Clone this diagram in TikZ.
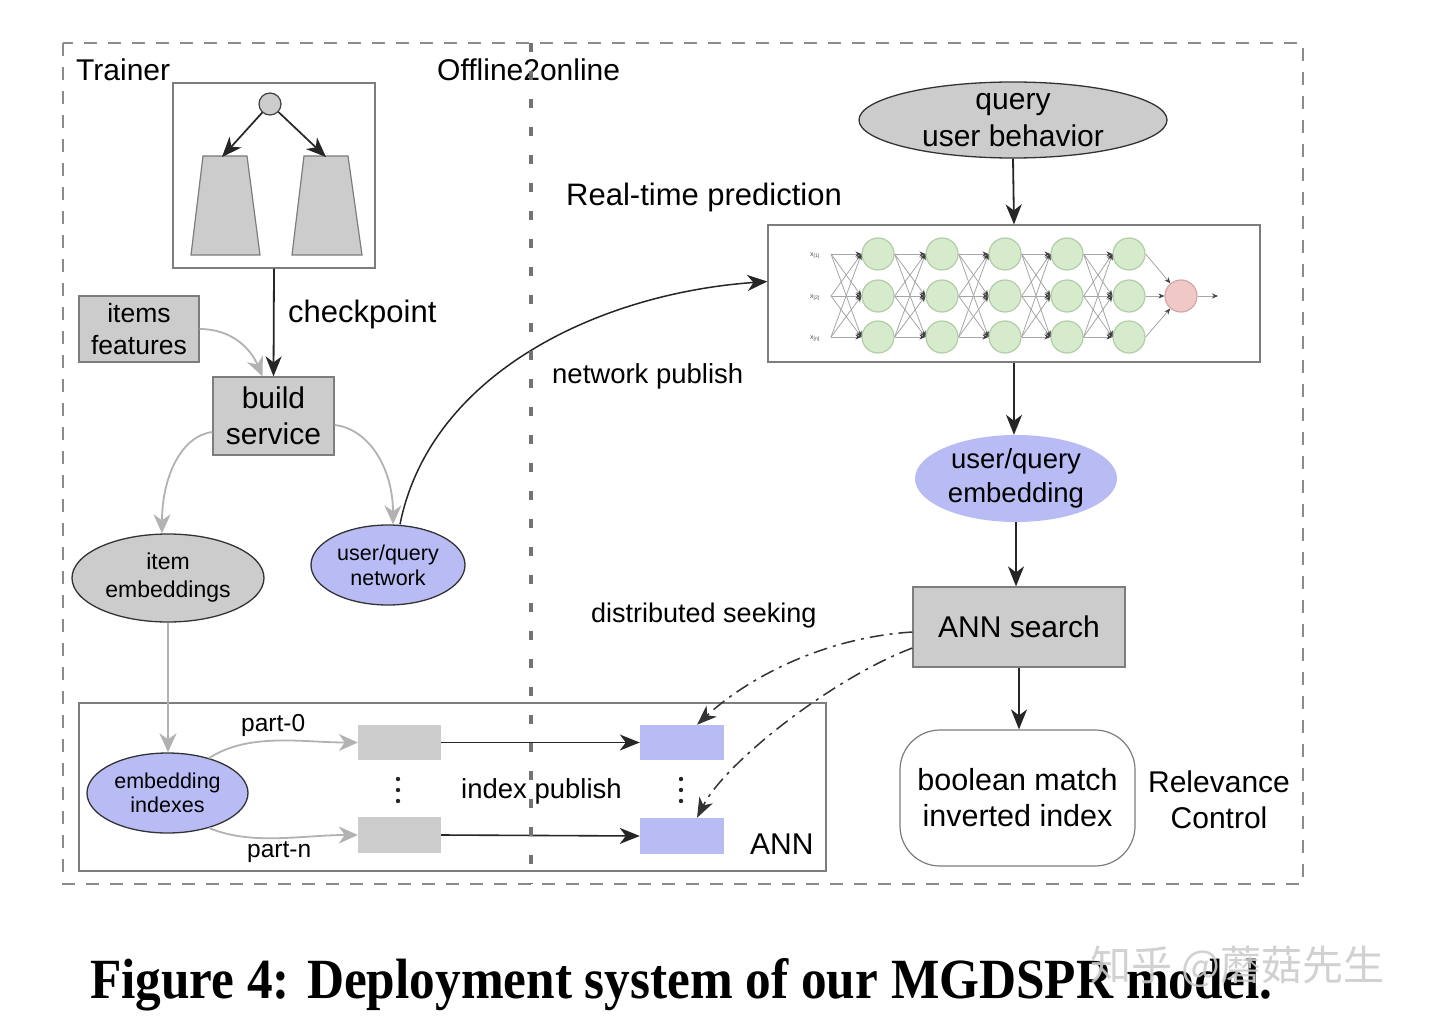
\documentclass[tikz,border=0pt]{standalone}
\usepackage{fontspec}
\setmainfont{Liberation Sans}
\newfontfamily\capfont{Liberation Serif}
\newfontfamily\cjkfont{Noto Sans CJK SC}
\usetikzlibrary{shapes.geometric,arrows.meta}
\definecolor{boxgray}{RGB}{204,204,204}
\definecolor{edgegray}{RGB}{125,125,125}
\definecolor{lightarrow}{RGB}{178,178,178}
\definecolor{bluefill}{RGB}{185,187,245}
\definecolor{nngreen}{RGB}{214,234,204}
\definecolor{nngreenedge}{RGB}{178,205,168}
\definecolor{nnpink}{RGB}{240,200,200}
\definecolor{nnpinkedge}{RGB}{215,165,165}
\definecolor{dashgray}{RGB}{140,140,140}
\definecolor{divgray}{RGB}{115,115,115}
\newcommand\fsz[2]{\fontsize{#1}{#2}\selectfont}
\begin{document}
\begin{tikzpicture}[x=1pt,y=-1pt,
  frame/.style={draw=edgegray, line width=1.2pt, inner sep=0pt},
  graybox/.style={draw=edgegray, fill=boxgray, line width=1.2pt, inner sep=0pt, align=center},
  grayell/.style={ellipse, draw=black!80, fill=boxgray, line width=1.3pt, inner sep=0pt},
  blueell/.style={ellipse, draw=black!80, fill=bluefill, line width=1.3pt, inner sep=0pt},
  txt/.style={inner sep=0pt, align=center},
  lbl/.style={inner sep=0pt, anchor=base west},
  blk/.style={draw=black!85, line width=1.8pt, -{Stealth[length=20pt,width=16pt,inset=6pt]}},
  gry/.style={draw=lightarrow, line width=1.8pt, -{Stealth[length=19pt,width=17pt,inset=6pt]}},
  dd/.style={draw=black!80, line width=1.5pt, dash pattern=on 14pt off 6pt on 3pt off 6pt, -{Stealth[length=20pt,width=15pt,inset=6pt]}},
  nnode/.style={circle, draw=nngreenedge, fill=nngreen, line width=1.2pt, minimum size=32pt, inner sep=0pt},
  nnline/.style={draw=black!35, line width=0.8pt, -{Stealth[length=6pt,width=5pt,color=black!75]}},
  sq/.style={minimum width=83pt, minimum height=35pt, inner sep=0pt}
]
\useasboundingbox (0,0) rectangle (1434,1027);
\fill[white] (0,0) rectangle (1434,1027);

% outer dashed frame
\draw[dashgray, line width=2pt, dash pattern=on 13pt off 11pt] (63,43) rectangle (1303,884);

% section labels
\node[lbl, font=\fsz{30}{36}] (trainer) at (76,81) {Trainer};
\node[lbl, font=\fsz{30}{36}] (offl) at (437,81) {Offline2online};

% tree box
\node[frame, minimum width=202pt, minimum height=185pt] (tree) at (274,175.5) {};
\filldraw[draw=edgegray, fill=boxgray, line width=1.2pt] (203,156) -- (247,156) -- (260,255) -- (191,255) -- cycle;
\filldraw[draw=edgegray, fill=boxgray, line width=1.2pt] (304,156) -- (348,156) -- (362,255) -- (292,255) -- cycle;
\node[circle, draw=black!75, fill=boxgray, minimum size=22pt, inner sep=0pt, line width=1.2pt] (root) at (270,104) {};
\coordinate (lt) at (222,157);
\coordinate (rt) at (326,157);
\draw[blk, line width=1.7pt] (root) -- (lt);
\draw[blk, line width=1.7pt] (root) -- (rt);

% items features, build service
\node[graybox, minimum width=120pt, minimum height=66pt, font=\fsz{26.5}{32}] (items) at (139,329) {items\\features};
\node[graybox, minimum width=121pt, minimum height=78pt, font=\fsz{30}{36}] (build) at (273.5,416) {build\\service};
\draw[blk] (tree.south) -- (build.north);
\node[lbl, font=\fsz{31}{36}] (ckpt) at (288,322) {checkpoint};
\draw[gry] (items.east) .. controls +(32,0) and +(-12,-28) .. ([xshift=-11pt]build.north);

% item embeddings, user/query network
\node[grayell, minimum width=192pt, minimum height=88pt] (iemb) at (168,578) {};
\node[txt, font=\fsz{23}{28}] (iembt) at (iemb) {item\\embeddings};
\node[blueell, minimum width=154pt, minimum height=80pt] (uqn) at (388,565) {};
\node[txt, font=\fsz{21.5}{25}] (uqnt) at (uqn) {user/query\\network};
\draw[gry] ([yshift=-16pt]build.west) .. controls +(-32,4) and +(0,-55) .. ([xshift=-6pt]iemb.north);
\draw[gry] ([yshift=-9pt]build.east) .. controls +(35,4) and +(0,-55) .. ([xshift=5pt]uqn.north);

% query
\node[grayell, minimum width=308pt, minimum height=76pt] (q) at (1013,120) {};
\node[txt, font=\fsz{30}{37}] (qt) at (q) {query\\user behavior};
\node[lbl, font=\fsz{31}{36}] (rtp) at (566,206) {Real-time prediction};

% neural network box
\node[frame, minimum width=492pt, minimum height=137pt] (nn) at (1014,293.5) {};
\draw[blk] (q.south) -- (nn.north);
\foreach \c/\x in {1/878,2/942,3/1005,4/1067,5/1129}{
  \foreach \r/\y in {1/254,2/296,3/337}{
    \node[nnode] (n\c\r) at (\x,\y) {};
  }
}
\node[circle, draw=nnpinkedge, fill=nnpink, line width=1.2pt, minimum size=32pt, inner sep=0pt] (out) at (1181,296) {};
\coordinate (outend) at (1218,296);
\coordinate (in1) at (831,254);
\coordinate (in2) at (831,296);
\coordinate (in3) at (831,337);
\node[txt, font=\fsz{7}{8}, text=black!70] (x1) at (815,256) {x\textsubscript{[1]}};
\node[txt, font=\fsz{7}{8}, text=black!70] (x2) at (815,298) {x\textsubscript{[2]}};
\node[txt, font=\fsz{7}{8}, text=black!70] (x3) at (815,339) {x\textsubscript{[n]}};
\foreach \r in {1,2,3}{\foreach \s in {1,2,3}{\draw[nnline] (in\r) -- (n1\s.west);}}
\foreach \c [evaluate=\c as \d using int(\c+1)] in {1,2,3,4}{
  \foreach \r in {1,2,3}{\foreach \s in {1,2,3}{\draw[nnline] (n\c\r.east) -- (n\d\s.west);}}
}
\foreach \r in {1,2,3}{\draw[nnline] (n5\r.east) -- (out);}
\draw[nnline] (out.east) -- (outend);

% network publish
\draw[blk, line width=1.5pt] ([xshift=12pt]uqn.north) .. controls +(30,-150) and +(-170,12) .. ([yshift=12pt]nn.west);
\node[lbl, font=\fsz{27.5}{33}] (np) at (552,383) {network publish};

% right column
\node[ellipse, fill=bluefill, draw=none, inner sep=0pt, minimum width=202pt, minimum height=87pt] (uqe) at (1016,478.5) {};
\node[txt, font=\fsz{27.5}{34}] (uqet) at (uqe) {user/query\\embedding};
\draw[blk] (nn.south) -- (nn.south |- uqe.north);
\node[graybox, minimum width=212pt, minimum height=80pt, font=\fsz{30}{36}] (anns) at (1019,627) {ANN search};
\draw[blk] (uqe.south) -- (uqe.south |- anns.north);
\node[draw=edgegray, line width=1.2pt, rounded corners=40pt, minimum width=235pt, minimum height=136pt, align=center, font=\fsz{30.5}{36}, inner sep=0pt] (bool) at (1017.5,798) {boolean match\\inverted index};
\draw[blk] (anns.south) -- (anns.south |- bool.north);
\node[txt, font=\fsz{30}{36}] (rel) at (1219,800) {Relevance\\Control};
\node[lbl, font=\fsz{27}{33}] (ds) at (591,622) {distributed seeking};

% ANN box
\node[frame, minimum width=747pt, minimum height=168pt] (annbox) at (452.5,787) {};
\node[blueell, minimum width=161pt, minimum height=80pt] (ei) at (167.5,793) {};
\node[txt, font=\fsz{21.5}{24}] (eit) at (ei) {embedding\\indexes};
\draw[gry] (iemb.south) -- (iemb.south |- ei.north);
\node[sq, fill=boxgray] (g1) at (399.5,742.5) {};
\node[sq, fill=boxgray, minimum height=36pt] (g2) at (399.5,835) {};
\node[sq, fill=bluefill, minimum width=84pt] (b1) at (682,742.5) {};
\node[sq, fill=bluefill, minimum width=84pt, minimum height=36pt] (b2) at (682,836) {};
\draw[gry] (ei.40) .. controls +(40,-26) and +(-55,0) .. (g1.west);
\draw[gry] (ei.-40) .. controls +(42,18) and +(-55,0) .. (g2.west);
\node[lbl, font=\fsz{24.5}{30}] (p0) at (241,731) {part-0};
\node[lbl, font=\fsz{24.5}{30}] (pn) at (247,857) {part-n};
\draw[blk, line width=1.6pt] (g1.east) -- (b1.west);
\draw[blk, line width=1.6pt] (g2.east) -- (b2.west);
\foreach \yy in {779,790,801}{
  \fill[black!85] (398,\yy) circle (2.2pt);
  \fill[black!85] (681,\yy) circle (2.2pt);
}
\node[lbl, font=\fsz{27.5}{33}] (ip) at (461,798) {index publish};
\node[lbl, font=\fsz{30}{36}] (annl) at (750,854) {ANN};
\draw[dd] ([yshift=-5pt]anns.west) .. controls +(-95,6) and +(45,-42) .. ([xshift=15pt]b1.north);
\draw[dd] ([yshift=-21pt]anns.west) .. controls +(-80,30) and +(28,-55) .. ([xshift=15pt]b2.north);

% divider
\draw[divgray, line width=4pt, dash pattern=on 9pt off 19pt] (531,43) -- (531,884);

% caption and watermark
\node[inner sep=0pt, anchor=base west] (cap) at (90,998) {\resizebox{1182pt}{40pt}{\capfont\bfseries Figure 4: Deployment system of our MGDSPR model.}};
\node[inner sep=0pt, anchor=west, text=gray!40, opacity=0.9, font=\cjkfont\fsz{41}{46}] (wm) at (1090,967) {知乎 @蘑菇先生};
\end{tikzpicture}
\end{document}
